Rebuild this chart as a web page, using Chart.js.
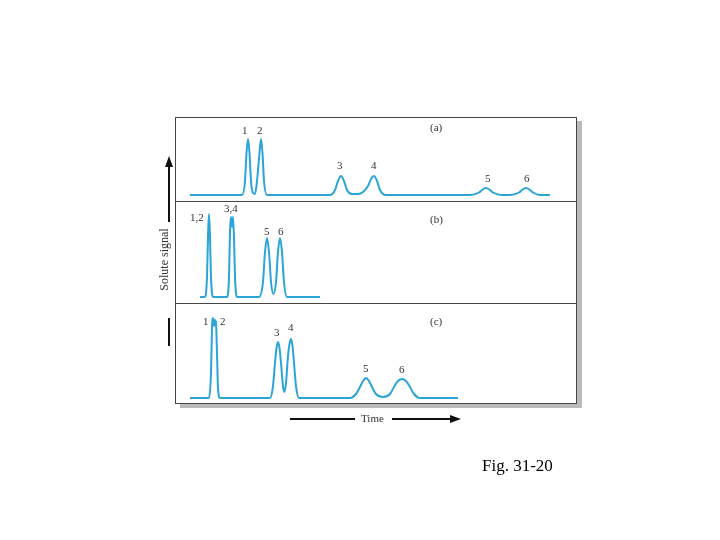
<!DOCTYPE html>
<html>
<head>
<meta charset="utf-8">
<script src="https://cdn.jsdelivr.net/npm/chart.js@4.4.0/dist/chart.umd.min.js"></script>
<style>
  body { margin: 0; width: 720px; height: 540px; background: #fff; position: relative; font-family: "Liberation Serif", serif; }
  .abs { position: absolute; }
  .lbl { position: absolute; font-size: 11px; color: #333; }
  #frame { left: 175px; top: 117px; width: 400px; height: 285px; border: 1px solid #444; background: #fff;
           box-shadow: 5px 4px 0 #bbb; }
  .sep { position: absolute; left: 175px; width: 402px; height: 1px; background: #444; }
  canvas { display: block; }
</style>
</head>
<body>
<div id="frame" class="abs"></div>
<div class="sep" style="top:201px"></div>
<div class="sep" style="top:303px"></div>
<div class="abs" style="left:175px;top:117px;width:402px;height:84px"><canvas id="ca"></canvas></div>
<div class="abs" style="left:175px;top:201px;width:402px;height:102px"><canvas id="cb"></canvas></div>
<div class="abs" style="left:175px;top:303px;width:402px;height:100px"><canvas id="cc"></canvas></div>

<!-- panel labels -->
<div class="lbl" style="left:430px;top:121px">(a)</div>
<div class="lbl" style="left:430px;top:213px">(b)</div>
<div class="lbl" style="left:430px;top:315px">(c)</div>
<div class="lbl" style="left:242px;top:124px">1</div>
<div class="lbl" style="left:257px;top:124px">2</div>
<div class="lbl" style="left:337px;top:159px">3</div>
<div class="lbl" style="left:371px;top:159px">4</div>
<div class="lbl" style="left:485px;top:172px">5</div>
<div class="lbl" style="left:524px;top:172px">6</div>
<div class="lbl" style="left:190px;top:211px">1,2</div>
<div class="lbl" style="left:224px;top:202px">3,4</div>
<div class="lbl" style="left:264px;top:225px">5</div>
<div class="lbl" style="left:278px;top:225px">6</div>
<div class="lbl" style="left:203px;top:315px">1</div>
<div class="lbl" style="left:220px;top:315px">2</div>
<div class="lbl" style="left:274px;top:326px">3</div>
<div class="lbl" style="left:288px;top:321px">4</div>
<div class="lbl" style="left:363px;top:362px">5</div>
<div class="lbl" style="left:399px;top:363px">6</div>

<!-- axis annotations -->
<svg class="abs" style="left:0;top:0" width="720" height="540">
  <line x1="169" y1="164" x2="169" y2="222" stroke="#111" stroke-width="2"/>
  <polygon points="169,156 165,167 173,167" fill="#111"/>
  <line x1="169" y1="318" x2="169" y2="346" stroke="#111" stroke-width="2"/>
  <line x1="290" y1="419" x2="355" y2="419" stroke="#111" stroke-width="2"/>
  <line x1="392" y1="419" x2="452" y2="419" stroke="#111" stroke-width="2"/>
  <polygon points="461,419 450,415 450,423" fill="#111"/>
</svg>
<div class="lbl" style="left:126px;top:252px;width:76px;text-align:center;transform:rotate(-90deg);font-size:12px">Solute signal</div>
<div class="lbl" style="left:361px;top:412px;font-size:11px">Time</div>
<div class="lbl" style="left:482px;top:456px;font-size:17px;color:#000">Fig. 31-20</div>

<script>
// traces: [time position, signal above baseline]
var traceA = [[190,0],[242,0],[245,14],[246.5,42],[248,56],[249.5,42],[251,14],[253,2],[255,1],[257,14],[259.5,42],[261,56],[262.5,42],[264,14],[267,0],
  [330,0],[335,5],[338,14],[341,19],[344,14],[347,5],[352,1],[358,1],[363,3],[368,9],[371,16],[374,19],[377,14],[380,5],[386,0],
  [470,0],[479,2.5],[482,5],[486,7],[490,5],[493,2.5],[502,0],[510,0],[519,2.5],[522,5],[526,7],[530,5],[533,2.5],[540,0],[550,0]];
var traceB = [[200,0],[205,0],[207,20],[208,60],[209,83],[210,60],[211,20],[213,0],[227,0],[229,20],[230,65],[231,80],[232,70],[233,80],[234,60],[235,20],[237,0],
  [259,0],[263,15],[265,45],[267,59],[269,45],[271,15],[273.5,3],[276,15],[278,45],[280,59],[282,45],[284,15],[287,0],[320,0]];
var traceC = [[190,0],[209,0],[211,25],[212,70],[213,80],[214,72],[215,78],[216,75],[217,45],[218,10],[220,0],
  [270,0],[273,12],[275,35],[276.5,50],[278,56],[279.5,50],[281,35],[283,12],[284.5,6],[286,15],[288,42],[289.5,54],[291,59],[292.5,52],[294,35],[296,12],[299,0],
  [350,0],[356,4],[360,11],[363,17],[366,20],[369,17],[372,11],[376,4],[383,1],[390,4],[394,11],[398,17],[402,19],[406,17],[410,11],[414,4],[420,0],[458,0]];

var lineColor = "#2ba4d8";

function makeChart(id, trace, ymin, ymax) {
    var ctx = document.getElementById(id).getContext("2d");
    return new Chart(ctx, {
        type: "line",
        data: {
            datasets: [{
                data: trace.map(function (p) { return {x: p[0], y: p[1]}; }),
                borderColor: lineColor,
                borderWidth: 2,
                pointRadius: 0,
                cubicInterpolationMode: "monotone",
                fill: false,
                clip: false
            }]
        },
        options: {
            responsive: true,
            maintainAspectRatio: false,
            animation: false,
            layout: { padding: 0 },
            plugins: { legend: { display: false }, tooltip: { enabled: false } },
            scales: {
                x: { type: "linear", min: 175, max: 577, display: false },
                y: { min: ymin, max: ymax, display: false }
            }
        }
    });
}

makeChart("ca", traceA, -6, 78);
makeChart("cb", traceB, -6, 96);
makeChart("cc", traceC, -5, 95);
</script>
</body>
</html>
